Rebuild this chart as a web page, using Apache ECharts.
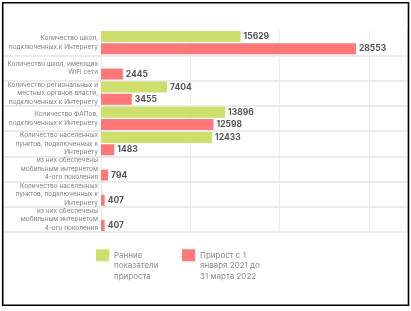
<!DOCTYPE html>
<html>
<head>
<meta charset="utf-8">
<script src="https://cdn.jsdelivr.net/npm/echarts@6/dist/echarts.min.js"></script>
<style>
  html, body { margin: 0; padding: 0; background: #fff; }
  #main { width: 411px; height: 311px; }
</style>
</head>
<body>
<div id="main"></div>
<script>
// категории (сверху вниз)
var categories = [
    'Количество школ,\nподключенных к Интернету',
    'Количество школ, имеющих\nWiFi сети',
    'Количество региональных и\nместных органов власти,\nподключенных к Интернету',
    'Количество ФАПов,\nподключенных к Интернету',
    'Количество населенных\nпунктов, подключенных к\nИнтернету',
    'из них обеспечены\nмобильным интернетом\n4-ого поколения',
    'Количество населенных\nпунктов, подключенных к\nИнтернету',
    'из них обеспечены\nмобильным интернетом\n4-ого поколения'
];
var seriesNames = ['Ранние\nпоказатели\nприроста', 'Прирост с 1\nянваря 2021 до\n31 марта 2022'];
var earlyValues = [15629, null, 7404, 13896, 12433, null, null, null];
var growthValues = [28553, 2445, 3455, 12598, 1483, 794, 407, 407];

var chart = echarts.init(document.getElementById('main'));

var font = 'Inter, "Noto Sans", sans-serif';
var sepColor = '#e4e4e4';
// разделители только между строками (без верхней линии)
var skipFirst = function (i) { return i > 0; };

var valueLabel = {
    show: true,
    position: 'right',
    distance: 3,
    fontFamily: font,
    fontSize: 8.5,
    fontWeight: 'bold',
    color: '#555'
};

var option = {
    animation: false,
    grid: { left: 101, right: 4, top: 30, bottom: 79 },
    xAxis: {
        type: 'value',
        min: 0,
        max: 34270,
        interval: 10000,
        axisLabel: { show: false },
        axisLine: { show: false },
        axisTick: { show: false },
        splitLine: { show: true, lineStyle: { color: '#ececec', width: 1 } }
    },
    yAxis: {
        type: 'category',
        inverse: true,
        data: categories,
        axisLine: { show: false },
        axisTick: {
            show: true,
            length: 99,
            interval: skipFirst,
            lineStyle: { color: sepColor, width: 1.5 }
        },
        splitLine: {
            show: true,
            interval: skipFirst,
            lineStyle: { color: sepColor, width: 1.5 }
        },
        axisLabel: {
            interval: 0,
            hideOverlap: false,
            margin: 3,
            fontFamily: font,
            fontSize: 6.5,
            lineHeight: 8.5,
            color: '#808080',
            align: 'right'
        }
    },
    legend: {
        left: 96,
        top: 229,
        padding: 0,
        itemWidth: 13,
        itemHeight: 12,
        itemGap: 13,
        itemTextGap: 3,
        itemStyle: { borderWidth: 0 },
        icon: 'rect',
        // первая строка подписи — напротив значка
        formatter: function (name) { return '\n\n' + name; },
        textStyle: {
            fontFamily: font,
            fontSize: 8,
            lineHeight: 10.5,
            color: '#8c8c8c',
            width: 55
        },
        data: seriesNames
    },
    series: [
        {
            name: seriesNames[0],
            type: 'bar',
            data: earlyValues,
            barWidth: 11,
            barGap: '12%',
            itemStyle: { color: '#cee06b' },
            label: valueLabel
        },
        {
            name: seriesNames[1],
            type: 'bar',
            data: growthValues,
            barWidth: 11,
            barGap: '12%',
            itemStyle: { color: '#ff7777' },
            label: valueLabel
        }
    ],
    graphic: [{
        type: 'rect',
        z: 100,
        shape: { x: 2.7, y: 2.7, width: 405.8, height: 302.5 },
        style: { fill: 'none', stroke: '#000', lineWidth: 1.6 }
    }]
};

chart.setOption(option);
</script>
</body>
</html>
